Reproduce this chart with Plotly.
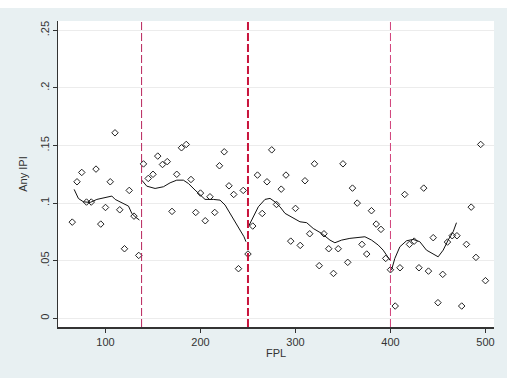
import plotly.graph_objects as go

# ---- data ----
fpl = list(range(65, 505, 5))
any_ipi = [0.0835, 0.1185, 0.1266, 0.1009, 0.1009, 0.1295, 0.0818, 0.0962, 0.1185, 0.1610,
           0.0942, 0.0604, 0.1110, 0.0887, 0.0546, 0.1340, 0.1214, 0.1250, 0.1408, 0.1335,
           0.1360, 0.0928, 0.1250, 0.1480, 0.1509, 0.1205, 0.0919, 0.1087, 0.0847, 0.1055,
           0.0919, 0.1324, 0.1445, 0.1150, 0.1075, 0.0431, 0.1110, 0.0558, 0.0801, 0.1243,
           0.0910, 0.1185, 0.1462, 0.0988, 0.1121, 0.1243, 0.0670, 0.0954, 0.0633, 0.1194,
           0.0734, 0.1341, 0.0457, 0.0734, 0.0604, 0.0390, 0.0604, 0.1341, 0.0486, 0.1130,
           0.1000, 0.0642, 0.0558, 0.0934, 0.0818, 0.0772, 0.0520, 0.0422, 0.0107, 0.0439,
           0.1075, 0.0642, 0.0670, 0.0439, 0.1130, 0.0410, 0.0700, 0.0136, 0.0382, 0.0662,
           0.0717, 0.0717, 0.0107, 0.0642, 0.0965, 0.0529, 0.1509, 0.0327]

seg1_x = [67.0, 71.5, 76.8, 83.9, 90.9, 101.4, 106.7, 110.2, 117.2, 124.2, 127.7, 131.2, 135.7]
seg1_y = [0.1119, 0.1040, 0.1011, 0.1006, 0.1032, 0.1055, 0.1061, 0.1032, 0.1003, 0.0974, 0.0911, 0.0881, 0.0853]

seg2_x = [138.2, 143.5, 152.2, 161.0, 168.0, 175.0, 182.0, 187.3, 194.3, 199.6, 204.8, 213.5,
          220.6, 225.9, 231.1, 236.4, 241.6, 245.8, 247.9]
seg2_y = [0.1199, 0.1147, 0.1127, 0.1142, 0.1176, 0.1199, 0.1199, 0.1170, 0.1113, 0.1069, 0.1032, 0.1032,
          0.1026, 0.0983, 0.0911, 0.0838, 0.0766, 0.0708, 0.0665]

seg3_x = [250.4, 255.6, 260.9, 267.9, 273.2, 278.4, 283.7, 289.0, 297.7, 304.7, 311.8, 318.7,
          327.5, 336.3, 341.5, 348.6, 357.3, 366.1, 373.1, 380.1, 387.1, 392.3, 397.6, 399.4]
seg3_y = [0.0795, 0.0881, 0.0968, 0.1032, 0.1041, 0.1011, 0.0968, 0.0911, 0.0867, 0.0838, 0.0830, 0.0780,
          0.0737, 0.0679, 0.0656, 0.0679, 0.0694, 0.0703, 0.0708, 0.0679, 0.0636, 0.0592, 0.0534, 0.0506]

seg4_x = [401.1, 404.6, 409.9, 416.9, 423.9, 430.9, 437.9, 444.9, 450.2, 455.5, 460.7, 466.0, 469.5]
seg4_y = [0.0419, 0.0520, 0.0621, 0.0673, 0.0685, 0.0665, 0.0592, 0.0558, 0.0534, 0.0592, 0.0679, 0.0751, 0.0830]

cutoffs = [138, 250, 400]
cutoff_widths = [1, 2, 1]
cutoff_colors = ["#b8245c", "#c8143c", "#d0407a"]

y_ticks = [0, 0.05, 0.1, 0.15, 0.2, 0.25]
y_ticklabels = ["0", ".05", ".1", ".15", ".2", ".25"]
x_ticks = [100, 200, 300, 400, 500]

# ---- figure ----
fig = go.Figure()

line_x, line_y = [], []
for sx, sy in [(seg1_x, seg1_y), (seg2_x, seg2_y), (seg3_x, seg3_y), (seg4_x, seg4_y)]:
    line_x += sx + [None]
    line_y += sy + [None]

fig.add_trace(go.Scatter(x=fpl, y=any_ipi, mode="markers",
                         marker=dict(symbol="diamond-open", size=5, color="#222222",
                                     line=dict(width=1, color="#222222")),
                         showlegend=False, hoverinfo="x+y"))
fig.add_trace(go.Scatter(x=line_x, y=line_y, mode="lines",
                         line=dict(color="#111111", width=1), connectgaps=False,
                         showlegend=False))

for c, w, col in zip(cutoffs, cutoff_widths, cutoff_colors):
    fig.add_vline(x=c, line=dict(color=col, width=w, dash="8px,3px"), layer="above")

fig.add_shape(type="rect", xref="paper", yref="paper",
              x0=-0.2, x1=1.1, y0=1 + 13 / 306, y1=1 + 22 / 306,
              fillcolor="white", line=dict(width=0), layer="above")

font_family = "Liberation Sans, Arial, sans-serif"
fig.update_layout(
    width=507, height=378,
    margin=dict(l=58, r=13, t=21, b=51),
    paper_bgcolor="#e8f0f2",
    plot_bgcolor="white",
    font=dict(family=font_family, size=11, color="#222222"),
    xaxis=dict(range=[50, 509], tickvals=x_ticks, showgrid=False, zeroline=False,
               showline=True, linecolor="#333333", linewidth=2,
               ticks="outside", ticklen=4, tickcolor="#333333", tickwidth=1,
               tickfont=dict(size=11, color="#333333"),
               title=dict(text="FPL", font=dict(size=11, color="#333333"), standoff=2)),
    yaxis=dict(range=[-0.0075, 0.258], tickvals=y_ticks, ticktext=y_ticklabels,
               tickangle=-90, showgrid=True, gridcolor="#ececec", gridwidth=1,
               zeroline=False, showline=True, linecolor="#333333", linewidth=1,
               ticks="outside", ticklen=4, tickcolor="#333333", tickwidth=1,
               tickfont=dict(size=11, color="#333333"),
               title=dict(text="Any IPI", font=dict(size=11, color="#333333"), standoff=8)),
)

fig.write_html("out.html")
